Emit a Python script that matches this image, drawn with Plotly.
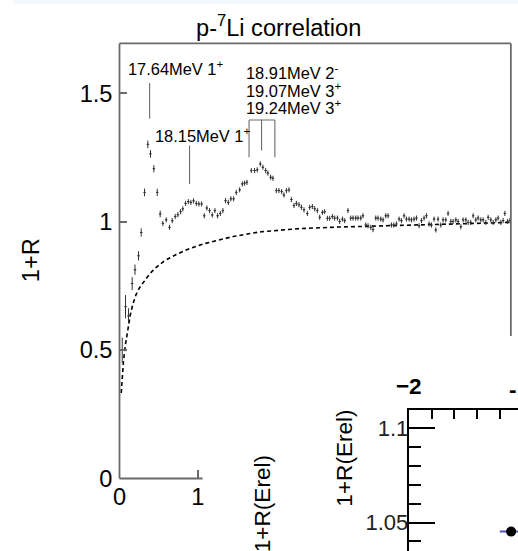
import plotly.graph_objects as go

# ---------------- data ----------------
# main panel: p-7Li correlation function vs relative energy (MeV)
erel = [0.035, 0.077, 0.115, 0.162, 0.198, 0.243, 0.277, 0.320, 0.362, 0.396,
        0.439, 0.482, 0.520, 0.554, 0.597, 0.639, 0.674, 0.712, 0.746, 0.780,
        0.809, 0.844, 0.879, 0.912, 0.946, 0.981, 1.014, 1.049, 1.083, 1.116,
        1.151, 1.185, 1.219, 1.253, 1.288, 1.321, 1.355, 1.390, 1.423, 1.458,
        1.492, 1.535, 1.569, 1.598, 1.628, 1.684, 1.726, 1.760, 1.799, 1.832,
        1.867, 1.896, 1.931, 1.960, 2.004, 2.037, 2.072, 2.101, 2.132, 2.165,
        2.196, 2.229, 2.260, 2.293, 2.324, 2.357, 2.400, 2.430, 2.464, 2.494,
        2.528, 2.558, 2.592, 2.621, 2.656, 2.685, 2.720, 2.749, 2.784, 2.813,
        2.848, 2.877, 2.919, 2.954, 2.983, 3.018, 3.047, 3.082, 3.111, 3.146,
        3.175, 3.210, 3.239, 3.274, 3.303, 3.338, 3.367, 3.402, 3.431, 3.474,
        3.504, 3.538, 3.572, 3.602, 3.636, 3.666, 3.700, 3.730, 3.763, 3.794,
        3.827, 3.858, 3.891, 3.922, 3.955, 3.986, 4.019, 4.041, 4.070, 4.105,
        4.134, 4.169, 4.198, 4.233, 4.262, 4.297, 4.326, 4.361, 4.390, 4.425,
        4.454, 4.488, 4.518, 4.552, 4.582, 4.616, 4.646, 4.680, 4.710, 4.744,
        4.774, 4.808, 4.837, 4.872, 4.901, 4.923, 4.958, 4.987]
corr = [0.499, 0.669, 0.633, 0.759, 0.813, 0.867, 0.958, 1.114, 1.301, 1.264,
        1.206, 1.114, 1.030, 0.993, 1.007, 0.978, 1.004, 1.020, 1.027, 1.039,
        1.050, 1.071, 1.078, 1.075, 1.081, 1.071, 1.069, 1.069, 1.023, 1.053,
        1.043, 1.026, 1.043, 1.023, 1.032, 1.043, 1.082, 1.075, 1.089, 1.089,
        1.114, 1.124, 1.147, 1.150, 1.153, 1.199, 1.199, 1.202, 1.225, 1.212,
        1.199, 1.189, 1.173, 1.169, 1.121, 1.121, 1.117, 1.104, 1.121, 1.124,
        1.086, 1.063, 1.071, 1.066, 1.056, 1.046, 1.032, 1.056, 1.059, 1.050,
        1.043, 1.017, 1.036, 1.039, 1.013, 1.013, 1.020, 1.014, 1.014, 1.001,
        1.010, 1.004, 1.043, 1.014, 1.014, 1.014, 1.014, 1.014, 1.023, 0.987,
        0.984, 0.978, 0.969, 1.014, 1.014, 1.010, 1.007, 1.023, 1.023, 0.987,
        0.987, 0.991, 1.010, 1.004, 1.023, 1.010, 1.010, 1.007, 1.010, 1.014,
        0.984, 1.004, 1.014, 1.023, 0.991, 0.987, 1.010, 0.968, 1.010, 0.987,
        1.007, 1.007, 1.032, 1.001, 1.001, 1.007, 1.001, 0.980, 1.007, 1.007,
        0.997, 0.997, 1.023, 1.007, 1.014, 1.007, 1.007, 0.997, 1.017, 1.007,
        0.997, 1.007, 1.014, 0.997, 1.004, 1.032, 1.001, 1.004]
corr_err = [0.050, 0.045, 0.030, 0.025, 0.020, 0.018, 0.016, 0.015, 0.015, 0.015,
            0.014, 0.014, 0.013] + [0.010] * 135
erel_halfbin = 0.016

# dashed (Coulomb-like) baseline
base_x = [0.022, 0.035, 0.051, 0.075, 0.106, 0.140, 0.170, 0.210, 0.256, 0.320,
          0.384, 0.450, 0.575, 0.725, 0.853, 1.065, 1.300, 1.450, 1.790, 2.300,
          2.800, 3.370, 4.220, 4.990]
base_y = [0.333, 0.400, 0.457, 0.520, 0.587, 0.640, 0.678, 0.715, 0.743, 0.772,
          0.796, 0.817, 0.848, 0.872, 0.890, 0.913, 0.932, 0.942, 0.960, 0.973,
          0.979, 0.984, 0.992, 0.997]

# 8Be levels (MeV) and p+7Li threshold
level_energy = [17.64, 18.15, 18.91, 19.07, 19.24]
level_label = ["17.64MeV 1<sup>+</sup>", "18.15MeV 1<sup>+</sup>",
               "18.91MeV 2<sup>-</sup>", "19.07MeV 3<sup>+</sup>",
               "19.24MeV 3<sup>+</sup>"]
threshold = 17.255

# inset panel point
inset_x = [-1.10]
inset_y = [1.0452]
inset_xerr = [0.10]

# ---------------- layout helpers ----------------
# positions are given in pixels of the target picture; the photographing step
# shifts/scales the page slightly, so positions are mapped back through it.
W, H = 518, 566
SC, OX = 0.974, 13.6
def fx(X): return (X - OX) / SC
def fy(Y): return Y / SC
def PX(X): return min(1.0, max(0.0, fx(X) / W))
def PY(Y): return min(1.0, max(0.0, 1 - fy(Y) / H))
def FS(s): return s / SC

FONT = "Liberation Sans, Arial, Helvetica, sans-serif"
AX = "#6a6a6a"

fig = go.Figure()

fig.add_trace(go.Scatter(
    x=base_x, y=base_y, mode="lines",
    line=dict(color="black", width=1.6, dash="4px,3px"),
    hoverinfo="skip", showlegend=False, xaxis="x", yaxis="y"))

fig.add_trace(go.Scatter(
    x=erel, y=corr, mode="markers",
    marker=dict(size=1.5, color="#333333"),
    error_y=dict(type="data", array=corr_err, color="#333333", thickness=1, width=0),
    error_x=dict(type="constant", value=erel_halfbin, color="#333333", thickness=1, width=0),
    showlegend=False, xaxis="x", yaxis="y"))

fig.add_trace(go.Scatter(
    x=inset_x, y=inset_y, mode="markers",
    marker=dict(size=10, color="black"),
    error_x=dict(type="data", array=inset_xerr, color="#5050c8", thickness=2, width=0),
    showlegend=False, xaxis="x2", yaxis="y2"))

shapes = []
# light strip along the top edge
shapes.append(dict(type="rect", xref="paper", yref="paper", x0=0, x1=1.0,
                   y0=PY(4), y1=1.0, fillcolor="#f4f8fa", line=dict(width=0), layer="below"))
# frame pieces of main panel
line_main = dict(color=AX, width=1.8)
shapes.append(dict(type="line", xref="paper", yref="paper", x0=PX(120), x1=PX(511),
                   y0=PY(43.3), y1=PY(43.3), line=line_main, layer="above"))
shapes.append(dict(type="line", xref="paper", yref="paper", x0=PX(511), x1=PX(511),
                   y0=PY(43.3), y1=PY(335), line=line_main, layer="above"))
shapes.append(dict(type="line", xref="paper", yref="paper", x0=PX(120), x1=PX(203),
                   y0=PY(477), y1=PY(477), line=line_main, layer="above"))
shapes.append(dict(type="line", xref="paper", yref="paper", x0=PX(120), x1=PX(120),
                   y0=PY(477), y1=PY(43.3), line=line_main, layer="above"))

# level markers
lx = [e - threshold for e in level_energy]
lv = dict(color=AX, width=1.1)
shapes.append(dict(type="line", xref="x", yref="y", x0=lx[0], x1=lx[0], y0=1.401, y1=1.540, line=lv))
shapes.append(dict(type="line", xref="x", yref="y", x0=lx[1], x1=lx[1], y0=1.147, y1=1.297, line=lv))
shapes.append(dict(type="line", xref="x", yref="y", x0=lx[2], x1=lx[2], y0=1.251, y1=1.396, line=lv))
shapes.append(dict(type="line", xref="x", yref="y", x0=lx[3], x1=lx[3], y0=1.277, y1=1.396, line=lv))
shapes.append(dict(type="line", xref="x", yref="y", x0=lx[4], x1=lx[4], y0=1.251, y1=1.396, line=lv))
shapes.append(dict(type="line", xref="x", yref="y", x0=lx[2], x1=lx[4], y0=1.396, y1=1.396, line=lv))

ann = []
def txt(text, x, y, size, xanchor="center", angle=0, bold=False):
    ann.append(dict(text=text, x=PX(x), y=PY(y), xref="paper", yref="paper",
                    xanchor=xanchor, yanchor="middle", showarrow=False, textangle=angle,
                    borderpad=0,
                    font=dict(family=FONT, size=FS(size), color="black",
                              weight="bold" if bold else "normal")))

txt("p-<sup>7</sup>Li correlation", 278.5, 26, 23)
txt(level_label[0], 127, 68, 16, xanchor="left")
txt(level_label[1], 154, 135, 16, xanchor="left")
txt(level_label[2], 245, 71.5, 16, xanchor="left")
txt(level_label[3], 245, 89.5, 16, xanchor="left")
txt(level_label[4], 245, 106.5, 16, xanchor="left")
txt("1+R", 31, 259, 23, angle=-90)
txt("1+R(Erel)", 345, 456.5, 22, angle=-90)
txt("1+R(Erel)", 263, 502, 22, angle=-90)
# only the leading minus of the next top-axis label is visible at the edge
txt("-", 519, 388.5, 22, xanchor="right", bold=True)

fig.update_layout(
    width=W, height=H, autosize=False,
    margin=dict(l=0, r=0, t=0, b=0, pad=0),
    paper_bgcolor="white", plot_bgcolor="white",
    font=dict(family=FONT, color="black"),
    shapes=shapes, annotations=ann,
    xaxis=dict(domain=[PX(120), PX(511)], range=[0, 5], showline=False,
               showgrid=False, zeroline=False,
               tickvals=[0, 1], ticktext=["0", "1"], ticks="inside", ticklen=8,
               tickwidth=1.5, tickcolor=AX, ticklabelstandoff=2,
               tickfont=dict(size=FS(23), family=FONT)),
    yaxis=dict(domain=[PY(477), PY(43.3)], range=[0, 1.694], showline=False,
               showgrid=False, zeroline=False,
               tickvals=[0, 0.5, 1, 1.5], ticktext=["0", "0.5", "1", "1.5"],
               ticks="inside", ticklen=8, tickwidth=1.5, tickcolor=AX,
               ticklabelstandoff=6,
               tickfont=dict(size=FS(23), family=FONT)),
    xaxis2=dict(domain=[PX(409), 1.0], range=[-2, -1.0396], anchor="y2", side="top",
                showline=True, linecolor="black", linewidth=2, showgrid=False,
                zeroline=False, tick0=-2, dtick=1, ticks="inside", ticklen=16,
                tickwidth=2, tickcolor="black", ticklabelstandoff=5,
                tickfont=dict(size=FS(22), family=FONT, weight="bold"),
                minor=dict(dtick=0.2, tick0=-2, ticks="inside", ticklen=9,
                           tickwidth=1.5, tickcolor="black")),
    yaxis2=dict(domain=[PY(551), PY(409)], range=[1.034, 1.1096], anchor="x2",
                showline=True, linecolor="black", linewidth=2, showgrid=False,
                zeroline=False, tick0=1.0, dtick=0.05, ticks="inside", ticklen=26,
                tickwidth=2, tickcolor="black", ticklabelstandoff=-6,
                tickfont=dict(size=FS(21.5), family=FONT, color="#222"),
                minor=dict(dtick=0.01, ticks="inside", ticklen=12,
                           tickwidth=1.5, tickcolor="black")),
)

post = ("document.documentElement.style.margin='0';"
        "document.body.style.margin='0';document.body.style.padding='0';"
        "document.documentElement.style.overflow='hidden';"
        "document.body.style.overflow='hidden';")
fig.write_html("out.html", config={"displayModeBar": False}, post_script=post)
